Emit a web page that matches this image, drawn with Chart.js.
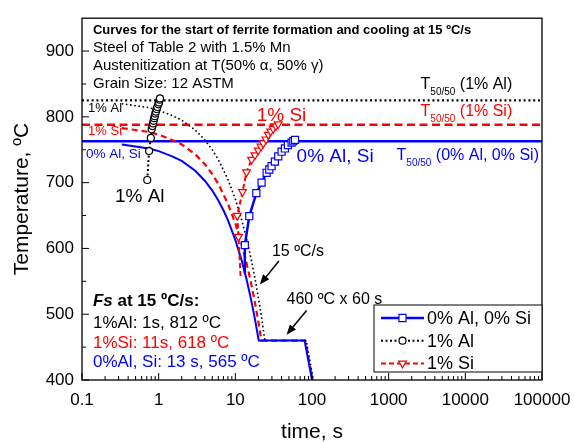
<!DOCTYPE html>
<html>
<head>
<meta charset="utf-8">
<script src="https://cdn.jsdelivr.net/npm/chart.js@4.4.1/dist/chart.umd.min.js"></script>
<style>
  body { margin: 0; background: #fff; }
  canvas { display: block; }
</style>
</head>
<body>
<canvas id="chart" width="574" height="443"></canvas>
<script>
/* ================= DATA ================= */
const xTicks = [0.1, 1, 10, 100, 1000, 10000, 100000];
const yTicks = [400, 500, 600, 700, 800, 900];

// T50/50 levels, drawn across the whole time range
const levelTimes = [0.1, 100000];
const levelBase = [763, 763];
const levelAl = [825, 825];
const levelSi = [788, 788];

// cooling at 15 C/s, hold 460 C x 60 s, then quench
const coolTimeBase = [0.33, 0.5, 0.75, 1, 1.5, 2, 3, 4, 5, 6, 7, 8, 10, 12, 14, 16, 18, 20.2, 80, 100];
const coolTempBase = [758, 755, 752, 748, 740, 733, 718, 703, 688, 673, 658, 643, 613, 583, 553, 523, 493, 460, 460, 400];
const coolTimeAl = [0.33, 0.5, 0.75, 1, 1.5, 2, 3, 4, 5, 6, 8, 10, 12, 14, 16, 18, 20, 22, 24.3, 84, 104];
const coolTempAl = [820, 817, 814, 810, 802, 795, 780, 765, 750, 735, 705, 675, 645, 615, 585, 555, 525, 495, 460, 460, 400];
const coolTimeSi = [0.33, 0.5, 0.75, 1, 1.5, 2, 3, 4, 5, 6, 8, 10, 12, 14, 16, 18, 20, 21.9, 82, 102];
const coolTempSi = [783, 780, 777, 773, 765, 758, 743, 728, 713, 698, 668, 638, 608, 578, 548, 518, 488, 460, 460, 400];

// start of ferrite formation
const fsTimeBase = [13, 13.3, 15.2, 18.8, 22, 25.6, 27.7, 29.7, 32.8, 36.3, 40.1, 44.3, 48.5, 54.2, 57, 60];
const fsTempBase = [562, 605, 649, 684, 700, 715, 720, 725, 732, 740, 747, 752, 757, 761, 763, 765];
const fsTimeAl = [0.71, 0.75, 0.79, 0.81, 0.83, 0.845, 0.86, 0.875, 0.89, 0.905, 0.92, 0.94, 0.96, 0.99, 1.01, 1.03, 1.04];
const fsTempAl = [704, 748, 768, 781, 786, 790, 794, 798, 801, 805, 808, 812, 815, 819, 822, 826, 828];
const fsTimeSi = [11.7, 11, 10.6, 12.4, 14, 16.3, 18, 19.9, 21.6, 23.1, 25.1, 26.9, 28.9, 31.2, 33.8, 36.2];
const fsTempSi = [558, 618, 650, 686, 716, 735, 742, 749, 755, 760, 766, 773, 778, 782, 786, 789];

/* ================= STYLE ================= */
const BLUE = "#0000ff", RED = "#ff0000", BLACK = "#000000";
const FONT = "'Liberation Sans', Arial, sans-serif";

const pts = (xs, ys) => xs.map((x, i) => ({ x: x, y: ys[i] }));

/* ================= ANNOTATION PLUGIN ================= */
function rich(ctx, x, y, segs, color) {
    ctx.fillStyle = color;
    ctx.textBaseline = "alphabetic";
    ctx.textAlign = "left";
    segs.forEach(s => {
        ctx.font = (s.style || "") + " " + s.size + "px " + FONT;
        ctx.fillText(s.text, x, y + (s.dy || 0));
        x += ctx.measureText(s.text).width;
    });
}

function arrow(ctx, x1, y1, x2, y2) {
    const a = Math.atan2(y2 - y1, x2 - x1), h = 10, w = 4;
    ctx.strokeStyle = BLACK;
    ctx.fillStyle = BLACK;
    ctx.lineWidth = 1.5;
    ctx.setLineDash([]);
    ctx.beginPath();
    ctx.moveTo(x1, y1);
    ctx.lineTo(x2 - h * 0.8 * Math.cos(a), y2 - h * 0.8 * Math.sin(a));
    ctx.stroke();
    ctx.beginPath();
    ctx.moveTo(x2, y2);
    ctx.lineTo(x2 - h * Math.cos(a) + w * Math.sin(a), y2 - h * Math.sin(a) - w * Math.cos(a));
    ctx.lineTo(x2 - h * Math.cos(a) - w * Math.sin(a), y2 - h * Math.sin(a) + w * Math.cos(a));
    ctx.closePath();
    ctx.fill();
}

const decor = {
    id: "decor",
    afterDraw(chart) {
        const ctx = chart.ctx;
        const a = chart.chartArea;
        const xs = chart.scales.x, ys = chart.scales.y;
        const X = v => xs.getPixelForValue(v), Y = v => ys.getPixelForValue(v);

        ctx.save();

        // frame
        ctx.strokeStyle = BLACK;
        ctx.lineWidth = 1.3;
        ctx.setLineDash([]);
        ctx.strokeRect(a.left, a.top, a.right - a.left, a.bottom - a.top);

        // ticks, inward
        ctx.lineWidth = 1;
        ctx.beginPath();
        yTicks.forEach(v => { ctx.moveTo(a.left, Y(v)); ctx.lineTo(a.left + 7, Y(v)); });
        yTicks.forEach(v => {
            const m = v + 50;
            if (Y(m) > a.top + 2) { ctx.moveTo(a.left, Y(m)); ctx.lineTo(a.left + 4, Y(m)); }
        });
        xTicks.forEach(d => {
            ctx.moveTo(X(d), a.bottom); ctx.lineTo(X(d), a.bottom - 7);
            if (d < 100000) {
                for (let k = 2; k <= 9; k++) {
                    ctx.moveTo(X(d * k), a.bottom); ctx.lineTo(X(d * k), a.bottom - 4);
                }
            }
        });
        ctx.stroke();

        // axis titles
        ctx.fillStyle = BLACK;
        ctx.font = "21px " + FONT;
        ctx.textAlign = "center";
        ctx.textBaseline = "middle";
        ctx.fillText("time, s", (a.left + a.right) / 2, 432);
        ctx.save();
        ctx.translate(22, (a.top + a.bottom) / 2);
        ctx.rotate(-Math.PI / 2);
        ctx.fillText("Temperature, ºC", 0, 0);
        ctx.restore();

        // top-left notes
        rich(ctx, X(0.139), Y(926), [{ text: "Curves for the start of ferrite formation and cooling at 15 ºC/s", size: 13, style: "bold" }], BLACK);
        rich(ctx, X(0.139), Y(898.5), [{ text: "Steel of Table 2 with 1.5% Mn", size: 15 }], BLACK);
        rich(ctx, X(0.139), Y(871.3), [{ text: "Austenitization at T(50% α, 50% γ)", size: 15 }], BLACK);
        rich(ctx, X(0.139), Y(843.9), [{ text: "Grain Size: 12 ASTM", size: 15 }], BLACK);

        // small labels on the left
        rich(ctx, X(0.12), Y(807), [{ text: "1% Al", size: 13 }], BLACK);
        rich(ctx, X(0.12), Y(771.7), [{ text: "1% Si", size: 13 }], RED);
        rich(ctx, X(0.113), Y(737.8), [{ text: "0% Al, Si", size: 13.5 }], BLUE);

        // large labels
        rich(ctx, X(19), Y(793.8), [{ text: "1% Si", size: 19 }], RED);
        rich(ctx, X(63), Y(731.9), [{ text: "0% Al, Si", size: 19 }], BLUE);
        rich(ctx, X(0.269), Y(670.4), [{ text: "1% Al", size: 19 }], BLACK);

        // T50/50 labels
        const sub = (rest) => [
            { text: "T", size: 16 },
            { text: "50/50", size: 10, dy: 6 },
            { text: " " + rest, size: 16 }
        ];
        rich(ctx, X(2606), Y(841.7), sub("(1% Al)"), BLACK);
        rich(ctx, X(2606), Y(800.7), sub("(1% Si)"), RED);
        rich(ctx, X(1268), Y(734.2), sub("(0% Al, 0% Si)"), BLUE);

        // arrows and their notes
        rich(ctx, X(30), Y(589), [{ text: "15 ºC/s", size: 16 }], BLACK);
        arrow(ctx, X(37), Y(581), X(20.9), Y(545));
        rich(ctx, X(46.6), Y(515.5), [{ text: "460 ºC x 60 s", size: 16 }], BLACK);
        arrow(ctx, X(85), Y(505.7), X(46.6), Y(468.9));

        // Fs summary
        rich(ctx, X(0.139), Y(512), [
            { text: "Fs", size: 17, style: "italic bold" },
            { text: " at 15 ºC/s:", size: 17, style: "bold" }
        ], BLACK);
        rich(ctx, X(0.139), Y(479.6), [{ text: "1%Al: 1s, 812 ºC", size: 17 }], BLACK);
        rich(ctx, X(0.139), Y(448.7), [{ text: "1%Si: 11s, 618 ºC", size: 17 }], RED);
        rich(ctx, X(0.139), Y(419.9), [{ text: "0%Al, Si: 13 s, 565 ºC", size: 17 }], BLUE);

        // legend box
        const lx0 = a.right - 168, ly0 = a.bottom - 75, ly1 = a.bottom - 8;
        ctx.fillStyle = "#fff";
        ctx.fillRect(lx0, ly0, a.right - lx0, ly1 - ly0);
        ctx.strokeStyle = BLACK;
        ctx.lineWidth = 1;
        ctx.setLineDash([]);
        ctx.strokeRect(lx0, ly0, a.right - lx0, ly1 - ly0);
        [0, 1, 2].forEach(i => {
            const ds = chart.data.datasets[i];
            const cy = ly0 + 13 + i * 22.7;
            const sx = lx0 + 7;
            ctx.strokeStyle = ds.borderColor;
            ctx.lineWidth = ds.borderWidth;
            ctx.setLineDash(ds.borderDash || []);
            ctx.beginPath();
            ctx.moveTo(sx, cy); ctx.lineTo(sx + 43, cy);
            ctx.stroke();
            ctx.setLineDash([]);
            ctx.fillStyle = "#fff";
            ctx.strokeStyle = ds.borderColor;
            ctx.lineWidth = 1.2;
            Chart.helpers.drawPoint(ctx, {
                pointStyle: ds.pointStyle,
                rotation: ds.pointRotation || 0,
                radius: ds.legendRadius,
                borderWidth: 1.2
            }, sx + 21.5, cy);
            ctx.fillStyle = BLACK;
            ctx.font = "18px " + FONT;
            ctx.textAlign = "left";
            ctx.textBaseline = "middle";
            ctx.fillText(ds.label, sx + 46, cy + 1);
        });

        ctx.restore();
    }
};

/* ================= CHART ================= */
const hideFirst = (r) => (c => c.dataIndex === 0 ? 0 : r);

new Chart(document.getElementById("chart"), {
    type: "scatter",
    data: {
        datasets: [
            {
                label: "0% Al, 0% Si",
                data: pts(fsTimeBase, fsTempBase),
                showLine: true,
                borderColor: BLUE, borderWidth: 2.5,
                pointStyle: "rect", pointRadius: hideFirst(5), legendRadius: 5,
                pointBackgroundColor: "#fff", pointBorderColor: BLUE, pointBorderWidth: 1.2,
                order: 1
            },
            {
                label: "1% Al",
                data: pts(fsTimeAl, fsTempAl),
                showLine: true,
                borderColor: BLACK, borderWidth: 2, borderDash: [2, 2.5],
                pointStyle: "circle", pointRadius: 3.5, legendRadius: 3.5,
                pointBackgroundColor: "#fff", pointBorderColor: BLACK, pointBorderWidth: 1.2,
                order: 2
            },
            {
                label: "1% Si",
                data: pts(fsTimeSi, fsTempSi),
                showLine: true,
                borderColor: RED, borderWidth: 2, borderDash: [5, 3],
                pointStyle: "triangle", pointRotation: 180, pointRadius: hideFirst(4.5), legendRadius: 4.5,
                pointBackgroundColor: "#fff", pointBorderColor: RED, pointBorderWidth: 1.2,
                order: 3
            },
            {
                label: "cool base",
                data: pts(coolTimeBase, coolTempBase),
                showLine: true, pointRadius: 0,
                borderColor: BLUE, borderWidth: 2,
                order: 4
            },
            {
                label: "cool Al",
                data: pts(coolTimeAl, coolTempAl),
                showLine: true, pointRadius: 0,
                borderColor: BLACK, borderWidth: 1.6, borderDash: [1.6, 2.6],
                order: 5
            },
            {
                label: "cool Si",
                data: pts(coolTimeSi, coolTempSi),
                showLine: true, pointRadius: 0,
                borderColor: RED, borderWidth: 2.2, borderDash: [6, 4],
                order: 6
            },
            {
                label: "T50 base",
                data: pts(levelTimes, levelBase),
                showLine: true, pointRadius: 0,
                borderColor: BLUE, borderWidth: 2.5,
                order: 7
            },
            {
                label: "T50 Al",
                data: pts(levelTimes, levelAl),
                showLine: true, pointRadius: 0,
                borderColor: BLACK, borderWidth: 2.2, borderDash: [2, 2.8],
                order: 8
            },
            {
                label: "T50 Si",
                data: pts(levelTimes, levelSi),
                showLine: true, pointRadius: 0,
                borderColor: RED, borderWidth: 2.5, borderDash: [8, 4.5],
                order: 9
            }
        ]
    },
    options: {
        responsive: false,
        animation: false,
        layout: { padding: { top: 7, right: 32, left: 0, bottom: 0 } },
        plugins: {
            legend: { display: false },
            tooltip: { enabled: false }
        },
        scales: {
            x: {
                type: "logarithmic",
                min: 0.1, max: 100000,
                grid: { display: false, drawTicks: false },
                border: { display: false },
                afterBuildTicks: s => { s.ticks = xTicks.map(v => ({ value: v })); },
                afterFit: s => { s.height = 63; s.paddingRight = 0; },
                ticks: {
                    color: BLACK, padding: 10, maxRotation: 0, autoSkip: false,
                    font: { family: FONT, size: 17 },
                    callback: v => String(v)
                }
            },
            y: {
                min: 400, max: 950,
                grid: { display: false, drawTicks: false },
                border: { display: false },
                afterBuildTicks: s => { s.ticks = yTicks.map(v => ({ value: v })); },
                afterFit: s => { s.width = 82; },
                ticks: {
                    color: BLACK, padding: 8,
                    font: { family: FONT, size: 17 }
                }
            }
        }
    },
    plugins: [decor]
});
</script>
</body>
</html>
